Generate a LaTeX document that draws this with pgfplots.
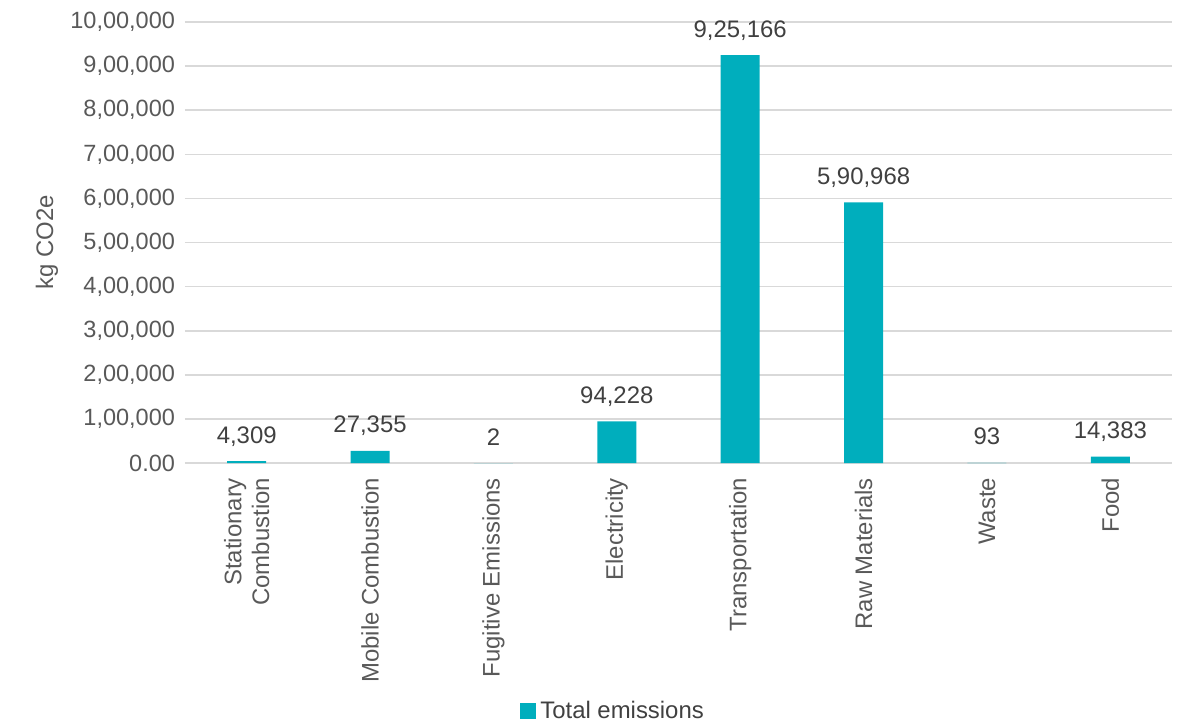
\documentclass[border=0pt]{standalone}
\usepackage{fontspec}
\setmainfont{Liberation Sans}
\usepackage{pgfplots}
\usepackage{pgfplotstable}
\pgfplotsset{compat=1.18}

\definecolor{barteal}{HTML}{00AEBD}
\definecolor{tickgray}{HTML}{595959}
\definecolor{labgray}{HTML}{404040}
\definecolor{gridgray}{HTML}{D9D9D9}

% emissions by source, kg CO2e (label column uses the report's digit grouping)
\pgfplotstableread{
x value  label
0 4309   4,309
1 27355  27,355
2 2      2
3 94228  94,228
4 925166 9,25,166
5 590968 5,90,968
6 93     93
7 14383  14,383
}\emissions

\begin{document}
\begin{tikzpicture}
\begin{axis}[
  name=ax,
  scale only axis,
  width=493.5bp, height=220.5bp,
  xmin=-0.5, xmax=7.5,
  ymin=0, ymax=1000000,
  axis line style={draw=none},
  major tick length=0pt,
  ymajorgrids,
  major grid style={gridgray, line width=0.8bp},
  scaled y ticks=false,
  ytick={0,100000,200000,300000,400000,500000,600000,700000,800000,900000,1000000},
  yticklabels={0.00,{1,00,000},{2,00,000},{3,00,000},{4,00,000},{5,00,000},{6,00,000},{7,00,000},{8,00,000},{9,00,000},{10,00,000}},
  xtick={0,...,7},
  xticklabels={{Stationary\\Combustion},{Mobile Combustion},{Fugitive Emissions},{Electricity},{Transportation},{Raw Materials},{Waste},{Food}},
  tick label style={font=\fontsize{12}{14}\selectfont, text=tickgray},
  xticklabel style={rotate=90, anchor=east, align=right},
  xticklabel shift=4bp,
  yticklabel style={anchor=east, font=\fontsize{11.8}{14}\selectfont, xshift=-1.5bp},
  ylabel={kg CO2e},
  ylabel style={at={(axis description cs:-0.1398,0.5)}, anchor=center,
    font=\fontsize{12}{14}\selectfont, text=tickgray},
  legend style={at={(axis description cs:0.3394,-0.5624)}, anchor=west,
    draw=none, fill=none, inner sep=0pt,
    font=\fontsize{12}{14}\selectfont, text=labgray},
  legend image code/.code={\fill[barteal] (0bp,-4bp) rectangle (8bp,4bp);},
  point meta=explicit symbolic,
  nodes near coords={\pgfplotspointmeta},
  every node near coord/.append style={anchor=base, yshift=9bp,
    font=\fontsize{12}{14}\selectfont, text=labgray},
]
\addplot[ybar, bar width=19.5bp, fill=barteal, draw=none]
  table[x=x, y=value, meta=label] {\emissions};
\addlegendentry{Total emissions}
\end{axis}
\path ([xshift=-92.5bp,yshift=-130.5bp]ax.south west)
  rectangle ([xshift=7bp,yshift=11bp]ax.north east);
\end{tikzpicture}
\end{document}
